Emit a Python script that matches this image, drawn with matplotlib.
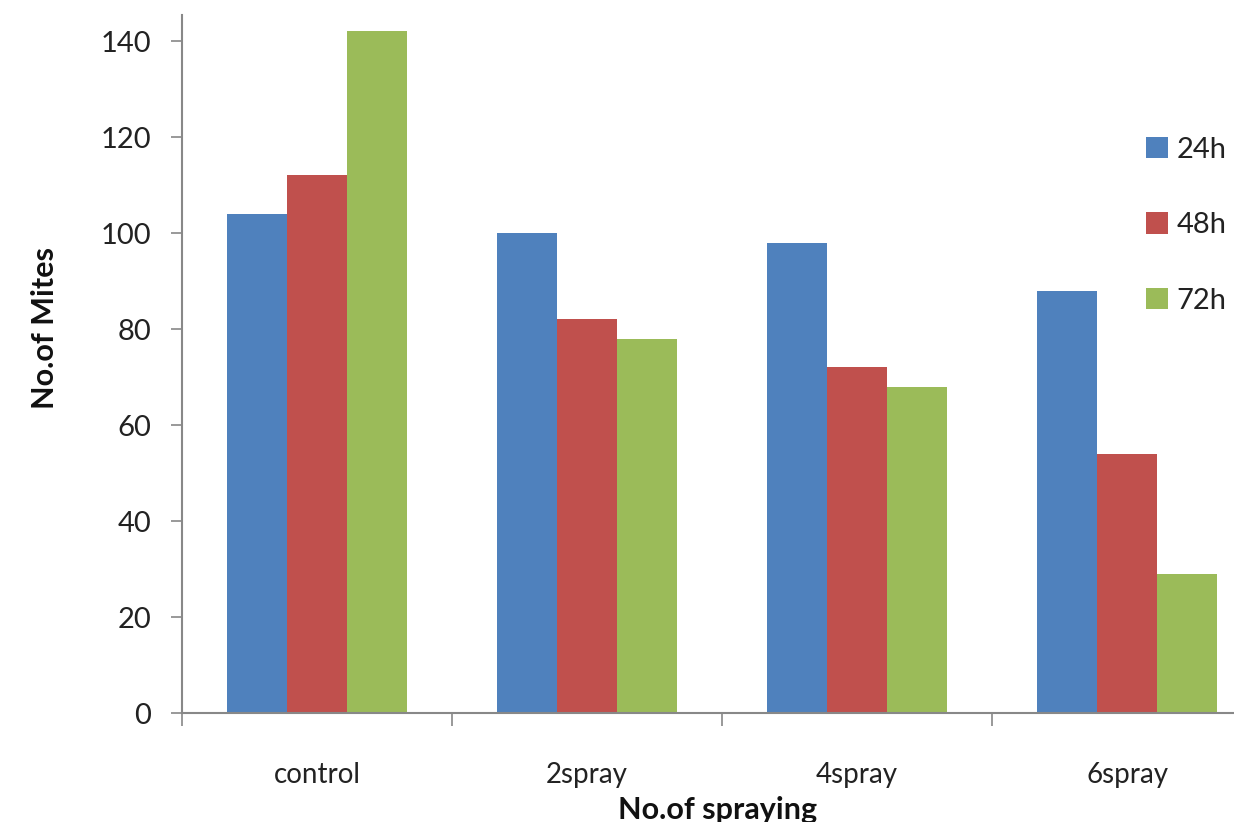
import matplotlib
matplotlib.use("Agg")
import matplotlib.pyplot as plt
import numpy as np

categories = ["control", "2spray", "4spray", "6spray"]
series_labels = ["24h", "48h", "72h"]
v24 = [104, 100, 98, 88]
v48 = [112, 82, 72, 54]
v72 = [142, 78, 68, 29]
yticks = [0, 20, 40, 60, 80, 100, 120, 140]
colors = ["#4F81BD", "#C0504D", "#9BBB59"]

plt.rcParams['font.family'] = ['Lato', 'DejaVu Sans']

W, H = 1234, 822
fig = plt.figure(figsize=(W / 100, H / 100), dpi=100)
left, right, bottom, top = 182 / W, 1.0, (H - 713) / H, (H - 15) / H
ax = fig.add_axes([left, bottom, right - left, top - bottom])

x = np.arange(len(categories))
bw = 0.222
for i, (vals, lab, c) in enumerate(zip([v24, v48, v72], series_labels, colors)):
    ax.bar(x + (i - 1) * bw, vals, bw, color=c, label=lab, zorder=2)

ax.set_yticks(yticks)
ax.set_yticklabels([str(t) for t in yticks], fontsize=21, color="#222222")
ax.set_xticks(np.arange(len(categories) + 1) - 0.5)
ax.set_xticklabels([])
ax.set_xticks(x, minor=True)
ax.set_xticklabels(categories, minor=True, fontsize=20, color="#222222")
ax.set_ylim(0, 698 / 4.8)
ax.set_xlim(-0.5, -0.5 + (W - 182) / 270)
ax.tick_params(axis="x", which="minor", length=0, pad=35)
ax.tick_params(axis="x", which="major", length=9, width=1.2, color="#888888", direction="out")
ax.tick_params(axis="y", length=8, width=1.2, color="#888888", direction="out", pad=14)

for s in ["top", "right"]:
    ax.spines[s].set_visible(False)
for s in ["left", "bottom"]:
    ax.spines[s].set_color("#888888")
    ax.spines[s].set_linewidth(1.5)

leg = ax.legend(loc="upper left", bbox_to_anchor=(1134 / W, (H - 125) / H),
                bbox_transform=fig.transFigure, frameon=False, fontsize=21,
                handlelength=0.75, handleheight=0.75, handletextpad=0.3,
                labelspacing=1.7, borderaxespad=0)
for t in leg.get_texts():
    t.set_color("#222222")

fig.text(45 / W, (H - 328) / H, "No.of Mites", rotation=90, ha="center", va="center",
         fontsize=22, fontweight="bold", color="#111111")
fig.text(718 / W, (H - 810) / H, "No.of spraying", ha="center", va="center",
         fontsize=22, fontweight="bold", color="#111111")

fig.savefig("out.png", dpi=100)
